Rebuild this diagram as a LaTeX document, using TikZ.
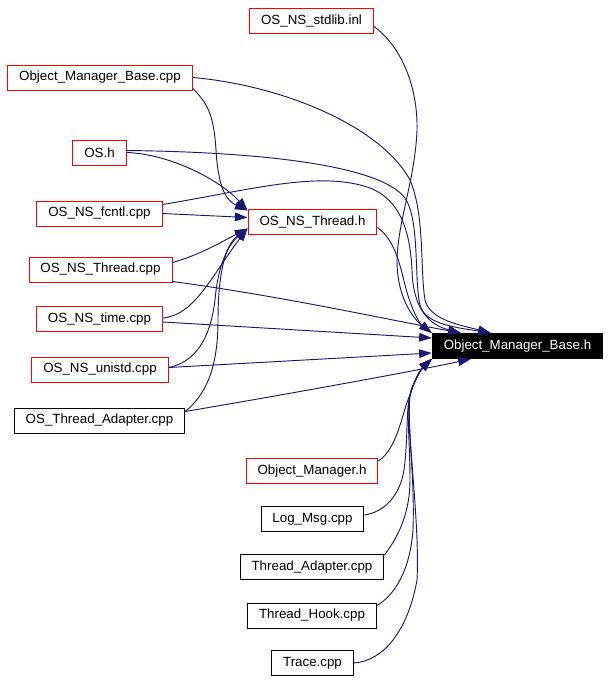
\documentclass[tikz,border=0pt]{standalone}
\usepackage{fontspec}
\setmainfont{Liberation Sans}
\usetikzlibrary{arrows.meta,calc}
\definecolor{edgeblue}{HTML}{191970}

\begin{document}
\begin{tikzpicture}[x=0.75pt,y=-0.75pt,
  box/.style={line width=0.75pt,inner xsep=8.6pt,inner ysep=0pt,minimum height=18.75pt,font=\fontsize{10}{12}\selectfont},
  redbox/.style={box,draw=red},
  blackbox/.style={box,draw=black},
  mainbox/.style={box,draw=black,fill=black,text=white},
  dep/.style={draw=edgeblue,line width=0.7pt,-{Triangle[length=9.5pt,width=6.5pt]}}]
  \useasboundingbox (0,0) rectangle (610,682);

  % Header being included
  \node[mainbox] (omh) at (517.5,346) {Object\_Manager\_Base.h};
  \node[redbox] (thr) at (312.5,221.5) {OS\_NS\_Thread.h};

  % Files on the left
  \node[redbox] (stdlib) at (311.5,20.5) {OS\_NS\_stdlib.inl};
  \node[redbox] (ombcpp) at (100,77.5) {Object\_Manager\_Base.cpp};
  \node[redbox] (os) at (99.5,152.5) {OS.h};
  \node[redbox] (fcntl) at (99.5,213.5) {OS\_NS\_fcntl.cpp};
  \node[redbox] (thrcpp) at (100.5,269.5) {OS\_NS\_Thread.cpp};
  \node[redbox] (time) at (99.5,319) {OS\_NS\_time.cpp};
  \node[redbox] (unistd) at (100,369.5) {OS\_NS\_unistd.cpp};
  \node[blackbox] (osta) at (99.5,420.5) {OS\_Thread\_Adapter.cpp};

  % Files below
  \node[redbox] (omgr) at (312,471) {Object\_Manager.h};
  \node[blackbox] (logmsg) at (312.5,519) {Log\_Msg.cpp};
  \node[blackbox] (thradp) at (312,567) {Thread\_Adapter.cpp};
  \node[blackbox] (thrhook) at (312,615.5) {Thread\_Hook.cpp};
  \node[blackbox] (trace) at (312.5,663) {Trace.cpp};

  % Into OS_NS_Thread.h
  \draw[dep] ($(ombcpp.south east)+(0,-2)$) .. controls (210,105) and (214,120) .. (216,150)
    .. controls (218,185) and (225,200) .. ($(thr.north west)+(0,2)$);
  \draw[dep] (os.east) .. controls (170,154) and (220,180) .. ($(thr.north west)+(0,2)$);
  \draw[dep] (fcntl.east) -- ($(thr.west)+(0,-4)$);
  \draw[dep] ($(thrcpp.east)+(0,-7)$) .. controls (200,255) and (225,240) .. ($(thr.west)+(0,7)$);
  \draw[dep] ($(time.east)+(0,-1)$) .. controls (195,315) and (212,275) .. ($(thr.west)+(0,7)$);
  \draw[dep] ($(unistd.east)+(0,-2)$) .. controls (195,362) and (210,340) .. (215,300)
    .. controls (218,265) and (228,245) .. ($(thr.west)+(0,7)$);
  \draw[dep] ($(osta.north east)+(0,4)$) .. controls (205,395) and (218,370) .. (218,320)
    .. controls (218,275) and (225,245) .. ($(thr.west)+(0,7)$);

  % Into Object_Manager_Base.h from above
  \draw[dep] ($(stdlib.east)+(0,6)$) .. controls (400,45) and (418,85) .. (417,130)
    .. controls (415,180) and (398,220) .. (397,260)
    .. controls (397,300) and (415,320) .. (omh.north west);
  \draw[dep] ($(thr.east)+(0,6)$) .. controls (395,240) and (400,265) .. (405,285)
    .. controls (410,305) and (418,322) .. (omh.north west);
  \draw[dep] (ombcpp.east) .. controls (280,85) and (380,125) .. (410,180)
    .. controls (425,215) and (420,270) .. (425,300)
    .. controls (430,320) and (460,325) .. ($(omh.north west)+(59,0)$);
  \draw[dep] ($(os.east)+(0,-2)$) .. controls (260,152) and (380,165) .. (405,198)
    .. controls (420,220) and (414,280) .. (420,305)
    .. controls (425,325) and (460,328) .. ($(omh.north west)+(59,0)$);
  \draw[dep] ($(fcntl.north east)+(0,4)$) .. controls (250,190) and (320,170) .. (370,188)
    .. controls (400,200) and (410,230) .. (412,270)
    .. controls (413,310) and (430,325) .. ($(omh.north west)+(29,0)$);

  % Into Object_Manager_Base.h from the left
  \draw[dep] ($(thrcpp.south east)+(0,-1)$) .. controls (280,296) and (380,318) .. ($(omh.north west)+(29,0)$);
  \draw[dep] ($(time.east)+(0,3)$) -- ($(omh.north west)+(0,5)$);
  \draw[dep] ($(unistd.east)+(0,-2)$) -- ($(omh.south west)+(0,-6)$);
  \draw[dep] ($(osta.north east)+(0,4)$) .. controls (300,392) and (420,370) .. ($(omh.south west)+(39,0)$);

  % Into Object_Manager_Base.h from below
  \draw[dep] ($(omgr.north east)+(0,3)$) .. controls (398,448) and (402,412) .. (410,395)
    .. controls (414,380) and (422,368) .. (omh.south west);
  \draw[dep] ($(logmsg.east)+(0,-4)$) .. controls (385,512) and (400,495) .. (404,470)
    .. controls (408,440) and (406,410) .. (410,395)
    .. controls (414,380) and (422,368) .. (omh.south west);
  \draw[dep] ($(thradp.north east)+(0,1)$) .. controls (400,535) and (410,510) .. (410,480)
    .. controls (410,440) and (406,410) .. (410,395)
    .. controls (414,380) and (422,368) .. (omh.south west);
  \draw[dep] ($(thrhook.north east)+(0,3)$) .. controls (395,595) and (410,570) .. (413,530)
    .. controls (415,470) and (406,420) .. (410,395)
    .. controls (414,380) and (422,368) .. (omh.south west);
  \draw[dep] (trace.east) .. controls (390,660) and (410,620) .. (417,580)
    .. controls (420,520) and (406,430) .. (410,395)
    .. controls (414,380) and (422,368) .. (omh.south west);
\end{tikzpicture}
\end{document}
